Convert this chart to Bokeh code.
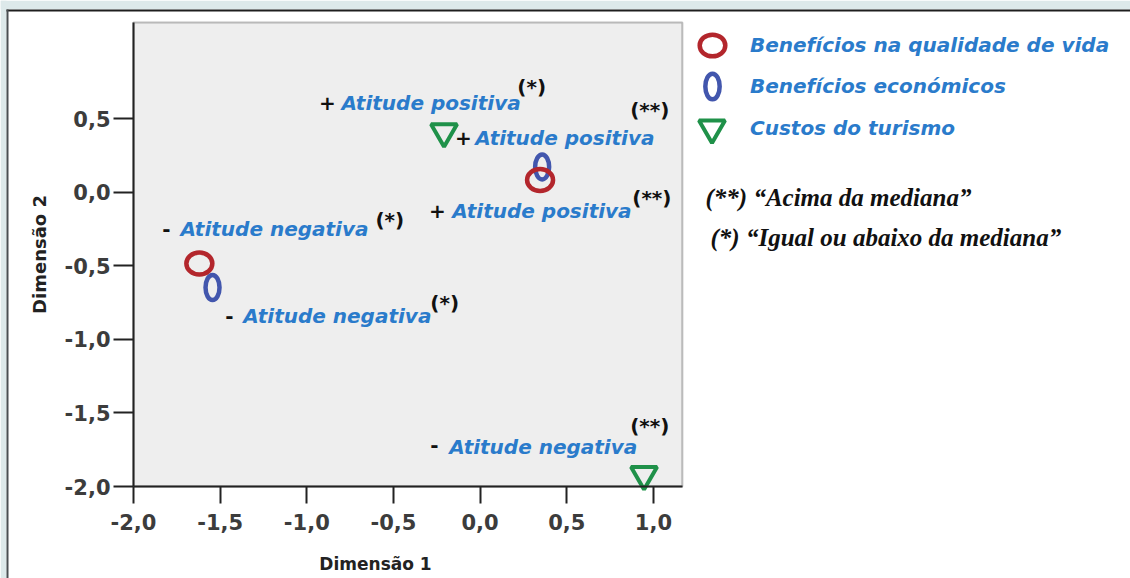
from bokeh.plotting import figure
from bokeh.models import (Range1d, Label, Legend, LegendItem, FixedTicker,
                          CustomJSTickFormatter, BoxAnnotation)
from bokeh.core.properties import value
from bokeh.embed import file_html
from bokeh.resources import INLINE

# ---- data ----
qv_x = [-1.62, 0.346]      # Benefícios na qualidade de vida
qv_y = [-0.485, 0.082]
ec_x = [-1.544, 0.358]     # Benefícios económicos
ec_y = [-0.648, 0.171]
ct_x = [-0.208, 0.946]     # Custos do turismo
ct_y = [0.41, -1.918]

sign_text = ["+", "+", "+", "-", "-", "-"]
sign_x = [-0.881, -0.097, -0.247, -1.810, -1.446, -0.264]
sign_y = [0.607, 0.369, -0.130, -0.253, -0.840, -1.720]
lab_text = ["Atitude positiva", "Atitude positiva", "Atitude positiva",
            "Atitude  negativa", "Atitude negativa", "Atitude negativa"]
lab_x = [-0.800, -0.028, -0.160, -1.729, -1.366, -0.178]
lab_y = [0.607, 0.369, -0.130, -0.253, -0.840, -1.734]
star_text = ["(*)", "(**)", "(**)", "(*)", "(*)", "(**)"]
star_x = [0.215, 0.866, 0.878, -0.604, -0.287, 0.866]
star_y = [0.717, 0.560, -0.041, -0.191, -0.751, -1.590]

x_ticks = [-2.0, -1.5, -1.0, -0.5, 0.0, 0.5, 1.0]
y_ticks = [-2.0, -1.5, -1.0, -0.5, 0.0, 0.5]
x_lim = (-2.0, 1.167)
y_lim = (-2.0, 1.152)

legend_labels = ["Benefícios na qualidade de vida", "Benefícios económicos", "Custos do turismo"]
note_texts = ["(**)  \u201cAcima da mediana\u201d", "(*)  \u201cIgual ou abaixo da  mediana\u201d"]
x_title = "Dimensão 1"
y_title = "Dimensão 2"

RED = "#b3262c"
BLUE_M = "#4256ad"
GREEN = "#1f9149"
TXT_BLUE = "#2a7bcb"

W, H = 1130, 578
# the plotting frame covers the whole canvas; axes are pinned at x=-2 / y=-2
X0, Y0 = 133, 486          # canvas pixel of (-2, -2)
SX, SY = 173.3, 147.2      # pixels per unit
x_start = -2.0 - X0 / SX
x_end = -2.0 + (W - X0) / SX
y_start = -2.0 - (H - Y0) / SY
y_end = -2.0 + Y0 / SY


def px_x(px):
    return x_start + px / SX


def px_y(py):
    return y_end - py / SY


p = figure(width=W, height=H, output_backend="svg", toolbar_location=None,
           x_range=Range1d(x_start, x_end), y_range=Range1d(y_start, y_end),
           min_border=0)
p.background_fill_color = "white"
p.border_fill_color = "white"
p.outline_line_color = None
p.xgrid.visible = False
p.ygrid.visible = False

# page decoration of the reference (light margin strip and the outer frame lines)
deco = dict(level="underlay", line_alpha=0, fill_alpha=1)
p.add_layout(BoxAnnotation(left=px_x(0), right=px_x(W), top=px_y(0), bottom=px_y(9),
                           fill_color="#dde9ea", **deco))
p.add_layout(BoxAnnotation(left=px_x(0), right=px_x(6), top=px_y(0), bottom=px_y(H),
                           fill_color="#dde9ea", **deco))
p.add_layout(BoxAnnotation(left=px_x(6), right=px_x(W), top=px_y(9), bottom=px_y(11),
                           fill_color="#1e1e1e", **deco))
p.add_layout(BoxAnnotation(left=px_x(6), right=px_x(8), top=px_y(9), bottom=px_y(H),
                           fill_color="#4a4f52", **deco))

# grey plotting area with its frame
p.add_layout(BoxAnnotation(left=x_lim[0], right=x_lim[1], bottom=y_lim[0], top=y_lim[1],
                           fill_color="#eeeeee", fill_alpha=1, line_color="#2a2a2a",
                           line_width=2, level="underlay"))

fmt = CustomJSTickFormatter(code="return tick.toFixed(1).replace('.', ',');")
p.xaxis.ticker = FixedTicker(ticks=x_ticks)
p.yaxis.ticker = FixedTicker(ticks=y_ticks)
p.xaxis.bounds = x_lim
p.yaxis.bounds = y_lim
p.xaxis.fixed_location = y_lim[0]
p.yaxis.fixed_location = x_lim[0]
for ax in (p.xaxis, p.yaxis):
    ax.formatter = fmt
    ax.axis_line_color = "#222222"
    ax.axis_line_width = 2
    ax.major_tick_line_color = "#222222"
    ax.major_tick_line_width = 2
    ax.major_tick_in = 0
    ax.minor_tick_line_color = None
    ax.major_label_text_font = "DejaVu Sans"
    ax.major_label_text_font_style = "bold"
    ax.major_label_text_font_size = "21px"
    ax.major_label_text_color = "#3c3c3c"
p.xaxis.major_tick_out = 17
p.xaxis.major_label_standoff = 10
p.yaxis.major_tick_out = 20
p.yaxis.major_label_standoff = 3
p.yaxis.axis_label = y_title
p.yaxis.axis_label_text_font = "DejaVu Sans"
p.yaxis.axis_label_text_font_style = "bold"
p.yaxis.axis_label_text_font_size = "18px"
p.yaxis.axis_label_text_color = "#222222"
p.yaxis.axis_label_standoff = 12

# x-axis title, placed as in the reference (left of the grey area's centre)
p.add_layout(Label(x=375, y=H - 563, x_units="screen", y_units="screen", text=x_title,
                   text_font="DejaVu Sans", text_font_style="bold",
                   text_font_size="17px", text_color="#222222",
                   text_align="center", text_baseline="middle"))

# markers
r_ec = p.ellipse(x=ec_x, y=ec_y, width=14, height=25, width_units="screen",
                 height_units="screen", fill_color=None, line_color=BLUE_M, line_width=4.5)
r_qv = p.ellipse(x=qv_x, y=qv_y, width=26, height=22, width_units="screen",
                 height_units="screen", fill_color=None, line_color=RED, line_width=4.5)
r_ct = p.scatter(x=ct_x, y=ct_y, marker="inverted_triangle", size=26,
                 fill_color=None, line_color=GREEN, line_width=4)

# annotation texts
p.text(x=sign_x, y=sign_y, text=sign_text, text_font=value("DejaVu Sans"),
       text_font_style="bold", text_font_size="20px", text_color="#111111",
       text_align="center", text_baseline="middle")
p.text(x=lab_x, y=lab_y, text=lab_text, text_font=value("DejaVu Sans"),
       text_font_style="bold italic", text_font_size="20px", text_color=TXT_BLUE,
       text_align="left", text_baseline="middle")
p.text(x=star_x, y=star_y, text=star_text, text_font=value("DejaVu Sans"),
       text_font_style="bold", text_font_size="20px", text_color="#111111",
       text_align="left", text_baseline="middle")

# legends (right of the grey area)
leg_kw = dict(padding=0, margin=0, border_line_alpha=0, background_fill_alpha=0,
              label_text_font="DejaVu Sans", label_text_font_style="bold italic",
              label_text_font_size="20px", label_text_color=TXT_BLUE)
legA = Legend(items=[LegendItem(label=legend_labels[0], renderers=[r_qv]),
                     LegendItem(label=legend_labels[1], renderers=[r_ec])],
              location=(696, H - 102), glyph_width=32, glyph_height=32, spacing=9,
              label_standoff=22, **leg_kw)
legB = Legend(items=[LegendItem(label=legend_labels[2], renderers=[r_ct])],
              location=(679, H - 160), glyph_width=65, glyph_height=65,
              label_standoff=6, **leg_kw)
p.add_layout(legA)
p.add_layout(legB)

# notes
for tx, xs, ys in zip(note_texts, (705, 710), (197, 237)):
    p.add_layout(Label(x=xs, y=H - ys, x_units="screen", y_units="screen", text=tx,
                       text_font="Liberation Serif", text_font_style="bold italic",
                       text_font_size="25px", text_color="#111111",
                       text_baseline="middle"))

open("out.html", "w").write(file_html(p, INLINE))
